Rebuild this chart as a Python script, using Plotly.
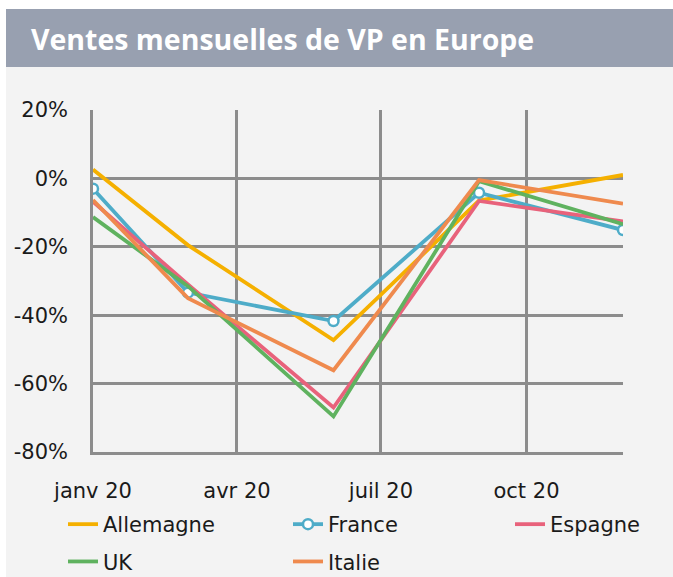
import plotly.graph_objects as go

# ---- data ----
dates = ["2020-01-01", "2020-03-01", "2020-06-01", "2020-09-01", "2020-12-01"]
allemagne = [2.6, -19.5, -47.3, -6.5, 1.0]
france = [-3.0, -33.4, -41.7, -4.2, -15.1]
espagne = [-6.8, -31.0, -67.0, -6.6, -12.6]
uk = [-11.3, -31.5, -69.6, -0.8, -13.4]
italie = [-6.3, -35.0, -56.1, -0.5, -7.4]

x_tickvals = ["2020-01-01", "2020-04-01", "2020-07-01", "2020-10-01"]
x_ticktext = ["janv 20", "avr 20", "juil 20", "oct 20"]
y_tickvals = [20, 0, -20, -40, -60, -80]
y_ticktext = ["20%", "0%", "-20%", "-40%", "-60%", "-80%"]

title = "Ventes mensuelles de VP en Europe"

# ---- styling ----
FONT = "DejaVu Sans"
TFONT = "Open Sans"
GRID = "#8c8c8c"
BG = "#f3f3f3"
W, H = 673, 577
L, R, T, B = 93, 50, 110, 125
PW, PH = W - L - R, H - T - B


def px(xp):
    return (xp - L) / PW


def py(yp):
    return (H - B - yp) / PH


series = [
    ("Allemagne", allemagne, "#f5b000", False, "legend"),
    ("France", france, "#4eacc8", True, "legend2"),
    ("Espagne", espagne, "#e8627b", False, "legend3"),
    ("UK", uk, "#5fb25f", False, "legend"),
    ("Italie", italie, "#ef8a4e", False, "legend2"),
]

fig = go.Figure()
for name, vals, color, mk, leg in series:
    fig.add_trace(go.Scatter(
        x=dates, y=vals, name=name,
        mode="lines+markers" if mk else "lines",
        line=dict(color=color, width=3.8),
        marker=dict(symbol="circle", size=10, color="white",
                    line=dict(color=color, width=2.5)) if mk else None,
        legend=leg, legendgroup=name,
    ))

fig.update_layout(
    width=W, height=H,
    margin=dict(l=L, r=R, t=T, b=B, pad=0, autoexpand=False),
    paper_bgcolor="white",
    plot_bgcolor=BG,
    font=dict(family=FONT, size=21, color="#1a1a1a"),
    showlegend=True,
    xaxis=dict(
        type="date", range=["2020-01-01", "2020-12-01"],
        tickvals=x_tickvals, ticktext=x_ticktext,
        showgrid=True, gridcolor=GRID, gridwidth=2.5,
        showline=True, linecolor=GRID, linewidth=2.5,
        zeroline=False, ticks="", ticklabelstandoff=18,
        tickfont=dict(family=FONT, size=21),
    ),
    yaxis=dict(
        range=[-80, 20], tickvals=y_tickvals, ticktext=y_ticktext,
        showgrid=True, gridcolor=GRID, gridwidth=2.5,
        showline=True, linecolor=GRID, linewidth=2.5,
        zeroline=True, zerolinecolor=GRID, zerolinewidth=2.5,
        ticks="", ticklabelstandoff=18,
        tickfont=dict(family=FONT, size=21),
    ),
    shapes=[
        dict(type="rect", xref="paper", yref="paper", layer="below",
             x0=px(6), x1=px(W + 2), y0=py(H + 2), y1=py(67),
             fillcolor=BG, line=dict(width=0)),
        dict(type="rect", xref="paper", yref="paper", layer="below",
             x0=px(6), x1=px(W + 2), y0=py(67), y1=py(9),
             fillcolor="#98a0b0", line=dict(width=0)),
    ],
    annotations=[
        dict(text="<b>" + title + "</b>", xref="paper", yref="paper",
             x=px(29), y=py(39), xanchor="left", yanchor="middle",
             showarrow=False, font=dict(family=TFONT, size=28.5, color="white")),
    ],
)

legend_common = dict(orientation="v", xref="paper", yref="paper",
                     xanchor="left", yanchor="top", bgcolor="rgba(0,0,0,0)",
                     font=dict(family=FONT, size=21, color="#1a1a1a"),
                     traceorder="grouped", tracegroupgap=7, itemwidth=30)
fig.update_layout(
    legend=dict(x=px(63), y=py(504), **legend_common),
    legend2=dict(x=px(288), y=py(504), **legend_common),
    legend3=dict(x=px(510), y=py(504), **legend_common),
)

fig.write_html(
    "out.html",
    config={"displayModeBar": False},
    post_script="document.body.style.margin='0';document.body.style.padding='0';",
)
